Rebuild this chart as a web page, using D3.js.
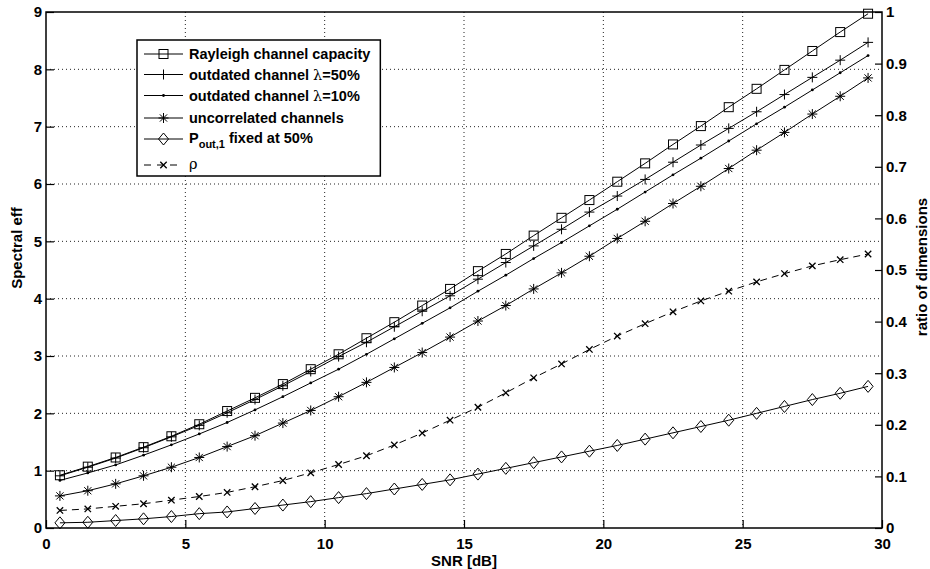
<!DOCTYPE html>
<html>
<head>
<meta charset="utf-8">
<script src="https://cdn.jsdelivr.net/npm/d3@7/dist/d3.min.js"></script>
<style>
  html, body { margin: 0; padding: 0; background: #fff; }
  svg { display: block; }
  text { font-family: "Liberation Sans", Arial, Helvetica, sans-serif; font-weight: bold; fill: #000; }
</style>
</head>
<body>
<svg id="chart" width="930" height="569"></svg>
<script>
// SNR sample points (dB)
const snr = [0.5,1.5,2.5,3.5,4.5,5.5,6.5,7.5,8.5,9.5,10.5,11.5,12.5,13.5,14.5,
             15.5,16.5,17.5,18.5,19.5,20.5,21.5,22.5,23.5,24.5,25.5,26.5,27.5,28.5,29.5];

// Spectral efficiency series (left axis)
const rayleigh = [0.92,1.07,1.23,1.41,1.60,1.81,2.04,2.27,2.51,2.77,3.03,3.31,3.59,3.88,4.17,
                  4.48,4.78,5.10,5.41,5.72,6.04,6.36,6.69,7.01,7.34,7.66,7.99,8.32,8.65,8.97];
const outdated50 = [0.91,1.06,1.22,1.40,1.59,1.79,2.01,2.24,2.48,2.73,2.99,3.24,3.51,3.78,4.05,
                    4.34,4.63,4.92,5.21,5.51,5.79,6.08,6.38,6.68,6.97,7.26,7.56,7.86,8.16,8.47];
const outdated10 = [0.83,0.96,1.10,1.27,1.45,1.64,1.84,2.06,2.29,2.53,2.77,3.03,3.30,3.57,3.84,
                    4.13,4.41,4.70,4.98,5.27,5.56,5.86,6.16,6.45,6.75,7.05,7.34,7.64,7.94,8.24];
const uncorrelated = [0.56,0.65,0.77,0.91,1.06,1.23,1.42,1.61,1.83,2.05,2.29,2.54,2.80,3.06,3.33,
                      3.61,3.88,4.17,4.45,4.74,5.05,5.35,5.66,5.96,6.27,6.59,6.90,7.22,7.53,7.85];
const poutFixed = [0.09,0.10,0.13,0.16,0.20,0.25,0.28,0.34,0.40,0.46,0.53,0.60,0.68,0.76,0.84,
                   0.94,1.04,1.14,1.24,1.34,1.44,1.55,1.66,1.77,1.88,2.00,2.12,2.24,2.35,2.47];

// Ratio of dimensions (right axis)
const rho = [0.034,0.037,0.042,0.047,0.054,0.061,0.069,0.080,0.092,0.107,0.123,0.140,0.161,0.184,0.209,
             0.234,0.262,0.291,0.318,0.346,0.372,0.396,0.419,0.440,0.459,0.477,0.493,0.508,0.520,0.531];

// Axis ticks and labels
const xTicks = [0,5,10,15,20,25,30];
const leftTicks = [0,1,2,3,4,5,6,7,8,9];
const rightTicks = [0,0.1,0.2,0.3,0.4,0.5,0.6,0.7,0.8,0.9,1];
const rightTickLabels = ["0","0.1","0.2","0.3","0.4","0.5","0.6","0.7","0.8","0.9","1"];

const xLabel = "SNR [dB]";
const leftLabel = "Spectral eff";
const rightLabel = "ratio of dimensions";

const svg = d3.select("#chart");
const L = 46, R = 882, T = 12, B = 528;

const x = d3.scaleLinear().domain([0, 30]).range([L, R]);
const yL = d3.scaleLinear().domain([0, 9]).range([B, T]);
const yR = d3.scaleLinear().domain([0, 1]).range([B, T]);

// dotted grid
const grid = svg.append("g").attr("stroke", "#222").attr("stroke-width", 1)
  .attr("stroke-dasharray", "1,3");
xTicks.filter(d => d > 0 && d < 30).forEach(d => {
  grid.append("line").attr("x1", x(d)).attr("x2", x(d)).attr("y1", T).attr("y2", B);
});
leftTicks.filter(d => d > 0 && d < 9).forEach(d => {
  grid.append("line").attr("x1", L).attr("x2", R).attr("y1", yL(d)).attr("y2", yL(d));
});

// axes
const fs = 15;
const gx = svg.append("g").attr("transform", `translate(0,${B})`)
  .call(d3.axisBottom(x).tickValues(xTicks).tickSize(-8).tickPadding(10).tickFormat(d3.format("d")));
const gl = svg.append("g").attr("transform", `translate(${L},0)`)
  .call(d3.axisLeft(yL).tickValues(leftTicks).tickSize(-8).tickPadding(4).tickFormat(d3.format("d")));
const gr = svg.append("g").attr("transform", `translate(${R},0)`)
  .call(d3.axisRight(yR).tickValues(rightTicks).tickSize(-7).tickPadding(4)
    .tickFormat((d, i) => rightTickLabels[i]));
[gx, gl, gr].forEach(g => {
  g.select(".domain").remove();
  g.selectAll(".tick line").attr("stroke", "#000").attr("stroke-width", 1.2);
  g.selectAll(".tick text").attr("font-size", fs).attr("font-family", null).attr("fill", "#000");
});

// frame
svg.append("rect").attr("x", L).attr("y", T).attr("width", R - L).attr("height", B - T)
  .attr("fill", "none").attr("stroke", "#000").attr("stroke-width", 1.5);

// marker shapes
function marker(g, type, cx, cy) {
  const s = g.append("g").attr("transform", `translate(${cx},${cy})`)
    .attr("fill", "none").attr("stroke", "#000").attr("stroke-width", 1);
  if (type === "square") {
    s.append("rect").attr("x", -4.5).attr("y", -4.5).attr("width", 9).attr("height", 9);
  } else if (type === "plus") {
    s.append("path").attr("d", "M-5,0H5M0,-5V5");
  } else if (type === "dot") {
    s.append("circle").attr("r", 1.4).attr("fill", "#000").attr("stroke", "none");
  } else if (type === "star") {
    s.append("path").attr("d", "M-5,0H5M0,-5V5M-3.6,-3.6L3.6,3.6M-3.6,3.6L3.6,-3.6");
  } else if (type === "diamond") {
    s.append("path").attr("d", "M0,-6L5,0L0,6L-5,0Z");
  } else if (type === "xmark") {
    s.append("path").attr("d", "M-3.2,-3.2L3.2,3.2M-3.2,3.2L3.2,-3.2").attr("stroke-width", 1.3);
  }
}

const series = [
  { values: rayleigh, scale: yL, marker: "square", dash: null },
  { values: outdated50, scale: yL, marker: "plus", dash: null },
  { values: outdated10, scale: yL, marker: "dot", dash: null },
  { values: uncorrelated, scale: yL, marker: "star", dash: null },
  { values: poutFixed, scale: yL, marker: "diamond", dash: null },
  { values: rho, scale: yR, marker: "xmark", dash: "7,5" }
];

series.forEach(s => {
  const line = d3.line().x((d, i) => x(snr[i])).y(d => s.scale(d));
  svg.append("path").datum(s.values).attr("d", line)
    .attr("fill", "none").attr("stroke", "#000").attr("stroke-width", 1)
    .attr("stroke-dasharray", s.dash);
  const mg = svg.append("g");
  s.values.forEach((v, i) => marker(mg, s.marker, x(snr[i]), s.scale(v)));
});

// axis titles
svg.append("text").attr("x", (L + R) / 2).attr("y", 566).attr("text-anchor", "middle")
  .attr("font-size", fs).text(xLabel);
svg.append("text").attr("transform", `translate(22,${(T + B) / 2 - 22}) rotate(-90)`)
  .attr("text-anchor", "middle").attr("font-size", fs).text(leftLabel);
svg.append("text").attr("transform", `translate(927,${(T + B) / 2 - 3}) rotate(-90)`)
  .attr("text-anchor", "middle").attr("font-size", fs).text(rightLabel);

// legend
const legend = svg.append("g");
const box = legend.append("rect").attr("x", 137).attr("y", 40).attr("height", 136)
  .attr("fill", "#fff").attr("stroke", "#000").attr("stroke-width", 1.5);
const rowY = [54, 74.5, 95.5, 118, 139, 165];
const lfs = 14.5;
const textNodes = [];
function addText(y) {
  const t = legend.append("text").attr("x", 189).attr("y", y + 5).attr("font-size", lfs);
  textNodes.push(t);
  return t;
}
series.forEach((s, i) => {
  const y = rowY[i];
  legend.append("line").attr("x1", 144).attr("x2", 183).attr("y1", y).attr("y2", y)
    .attr("stroke", "#000").attr("stroke-width", 1).attr("stroke-dasharray", s.dash ? "7,6" : null);
  marker(legend, s.marker, 163.5, y);
});
addText(rowY[0]).text("Rayleigh channel capacity");
const t1 = addText(rowY[1]);
t1.append("tspan").text("outdated channel ");
t1.append("tspan").attr("font-family", "'DejaVu Serif', serif").attr("font-weight", "normal").text("λ");
t1.append("tspan").text("=50%");
const t2 = addText(rowY[2]);
t2.append("tspan").text("outdated channel ");
t2.append("tspan").attr("font-family", "'DejaVu Serif', serif").attr("font-weight", "normal").text("λ");
t2.append("tspan").text("=10%");
addText(rowY[3]).text("uncorrelated channels");
const t4 = addText(rowY[4] - 1);
t4.append("tspan").text("P");
t4.append("tspan").attr("font-size", 11).attr("dy", 5).text("out,1");
t4.append("tspan").attr("dy", -5).text(" fixed at 50%");
const t5 = addText(rowY[5] - 1);
t5.append("tspan").attr("font-family", "'DejaVu Serif', serif").attr("font-weight", "normal").text("ρ");

const maxW = d3.max(textNodes, t => t.node().getComputedTextLength());
box.attr("width", 189 + maxW + 10 - 137);
</script>
</body>
</html>
